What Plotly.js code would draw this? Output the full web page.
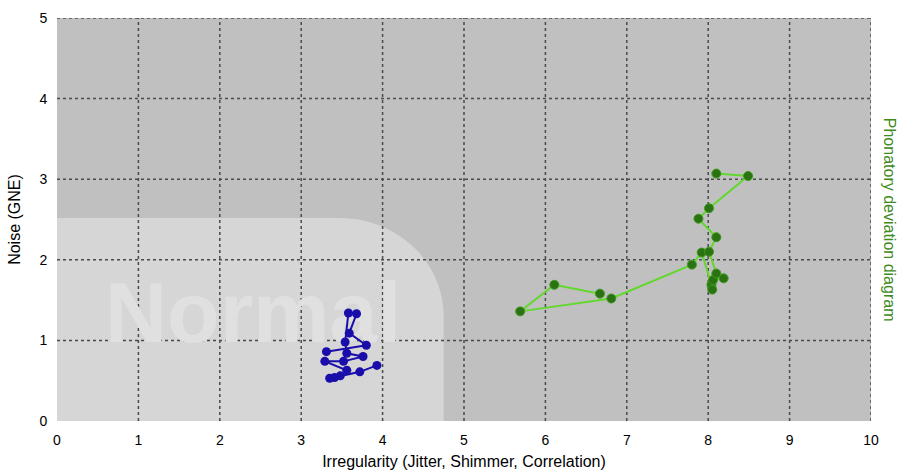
<!DOCTYPE html>
<html>
<head>
<meta charset="utf-8">
<script src="https://cdn.plot.ly/plotly-3.0.1.min.js"></script>
<style>html,body{margin:0;padding:0;background:#fff;}#chart{width:901px;height:470px;}</style>
</head>
<body>
<div id="chart"></div>
<script>
// Normal voice (blue) trajectory
const blueX = [3.31, 3.80, 3.59, 3.68, 3.58, 3.54, 3.56, 3.76, 3.52, 3.29, 3.56, 3.48, 3.35, 3.41, 3.72, 3.93];
const blueY = [0.86, 0.94, 1.09, 1.33, 1.34, 0.98, 0.84, 0.80, 0.74, 0.74, 0.63, 0.56, 0.53, 0.54, 0.61, 0.69];
// Pathological voice (green) trajectory
const greenX = [6.67, 6.11, 5.69, 6.81, 7.80, 7.92, 8.04, 8.05, 8.06, 8.19, 8.10, 8.01, 8.10, 7.88, 8.01, 8.49, 8.10];
const greenY = [1.58, 1.69, 1.36, 1.52, 1.94, 2.09, 1.69, 1.63, 1.75, 1.77, 1.83, 2.10, 2.28, 2.51, 2.64, 3.04, 3.07];
// Axis ticks
const xTicks = [0, 1, 2, 3, 4, 5, 6, 7, 8, 9, 10];
const yTicks = [0, 1, 2, 3, 4, 5];
// Normal region bounds
const normalX = 4.75, normalY = 2.52;
const labelText = ['Normal'];
const labelX = [2.41], labelY = [1.25];

const shapes = [];
shapes.push({
  type: 'path', layer: 'below', xref: 'x', yref: 'y',
  path: `M0,0 L0,${normalY} L3.48,${normalY} C4.18,${normalY} ${normalX},1.97 ${normalX},1.3 L${normalX},0 Z`,
  fillcolor: '#d6d6d6', line: {width: 0}
});
xTicks.filter(v => v > 0).forEach(v => shapes.push({
  type: 'line', layer: 'below', xref: 'x', yref: 'y', x0: v, x1: v, y0: 0, y1: 5,
  line: {color: '#4a4a4a', width: 1.5, dash: 'dot'}
}));
yTicks.filter(v => v > 0).forEach(v => shapes.push({
  type: 'line', layer: 'below', xref: 'x', yref: 'y', x0: 0, x1: 10, y0: v, y1: v,
  line: {color: '#4a4a4a', width: 1.5, dash: 'dot'}
}));

const data = [
  {x: labelX, y: labelY, text: labelText, mode: 'text', type: 'scatter', hoverinfo: 'skip',
   textfont: {family: 'Liberation Sans, Arial, sans-serif', size: 86, color: '#e0e0e0', weight: 'bold'}},
  {x: blueX, y: blueY, mode: 'lines+markers', type: 'scatter',
   line: {color: '#1a0eaa', width: 2}, marker: {color: '#1a0eaa', size: 9}},
  {x: greenX, y: greenY, mode: 'lines+markers', type: 'scatter',
   line: {color: '#62d82e', width: 2}, marker: {color: '#2b7212', size: 9, line: {color: '#3c9a1c', width: 1}}}
];

const layout = {
  width: 901, height: 470,
  margin: {l: 57, r: 30, t: 18, b: 49},
  paper_bgcolor: '#ffffff', plot_bgcolor: '#c0c0c0',
  showlegend: false,
  font: {family: 'Liberation Sans, Arial, sans-serif', size: 14, color: '#000'},
  xaxis: {range: [0, 10], tickvals: xTicks, ticktext: xTicks.map(String), showgrid: false, zeroline: false,
    showline: false, ticks: 'outside', ticklen: 6, tickcolor: 'rgba(0,0,0,0)', tickfont: {size: 14},
    title: {text: 'Irregularity (Jitter, Shimmer, Correlation)', font: {size: 16}, standoff: 12}},
  yaxis: {range: [0, 5], tickvals: yTicks, ticktext: yTicks.map(String), showgrid: false, zeroline: false,
    showline: false, ticks: 'outside', ticklen: 6, tickcolor: 'rgba(0,0,0,0)', tickfont: {size: 14},
    title: {text: 'Noise (GNE)', font: {size: 16}, standoff: 14}},
  shapes: shapes,
  annotations: [{
    xref: 'paper', yref: 'paper', x: 1.023, y: 0.5, xanchor: 'center', yanchor: 'middle',
    text: 'Phonatory deviation diagram', textangle: 90, showarrow: false,
    font: {size: 16, color: '#3f8a1c'}
  }]
};

Plotly.newPlot('chart', data, layout, {displayModeBar: false, staticPlot: true});
</script>
</body>
</html>
